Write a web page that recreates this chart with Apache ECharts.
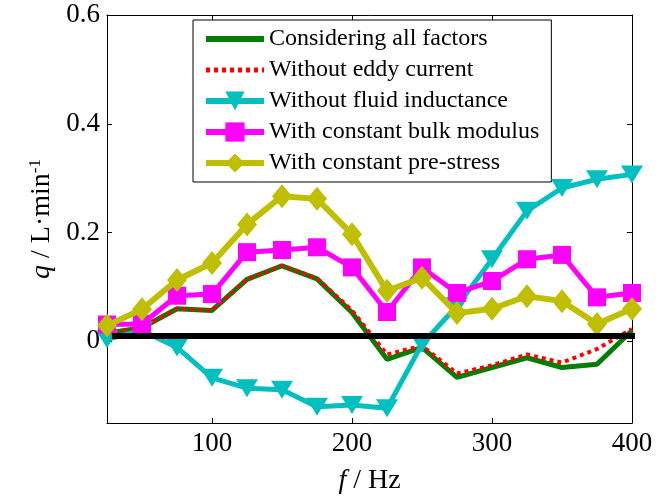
<!DOCTYPE html>
<html>
<head>
<meta charset="utf-8">
<script src="https://cdn.jsdelivr.net/npm/echarts@6/dist/echarts.min.js"></script>
<style>
  html, body { margin: 0; padding: 0; background: #fff; }
  #main { width: 669px; height: 500px; }
</style>
</head>
<body>
<div id="main"></div>
<script>
// ------------------------------------------------------
// Data
// ------------------------------------------------------
var freq = [25, 50, 75, 100, 125, 150, 175, 200, 225, 250, 275, 300, 325, 350, 375, 400]

var allFactors   = [0.015, 0.025, 0.060, 0.057, 0.114, 0.139, 0.115, 0.053, -0.033, -0.011, -0.066, -0.048, -0.030, -0.048, -0.042, 0.020]
var noEddy       = [0.015, 0.025, 0.060, 0.057, 0.114, 0.139, 0.116, 0.057, -0.024, -0.008, -0.059, -0.044, -0.024, -0.039, -0.014, 0.023]
var noInductance = [0.004, 0.020, -0.011, -0.067, -0.086, -0.089, -0.120, -0.117, -0.123, -0.005, 0.065, 0.151, 0.240, 0.282, 0.298, 0.307]
var bulkModulus  = [0.031, 0.032, 0.084, 0.087, 0.164, 0.168, 0.173, 0.136, 0.054, 0.136, 0.089, 0.111, 0.151, 0.159, 0.081, 0.089]
var preStress    = [0.029, 0.059, 0.113, 0.144, 0.215, 0.267, 0.262, 0.197, 0.093, 0.117, 0.052, 0.060, 0.083, 0.074, 0.032, 0.060]

var seriesNames = [
  'Considering all factors',
  'Without eddy current',
  'Without fluid inductance',
  'With constant bulk modulus',
  'With constant pre-stress'
]

// black reference line near zero
var refLineX = [28.5, 407]
var refLineY = 0.01

// ticks
var xTicks = [100, 200, 300, 400]
var yTicks = [0, 0.2, 0.4, 0.6]

// Helper: zip x and y
function pairs(xs, ys) {
  return xs.map(function (x, i) { return [x, ys[i]] })
}

var FONT = 'Liberation Serif'

var chart = echarts.init(document.getElementById('main'), null, { renderer: 'canvas' })

var axisBase = {
  type: 'value',
  axisLine: { show: true, onZero: false, lineStyle: { color: '#000', width: 1 } },
  splitLine: { show: false },
  axisTick: { show: true, inside: true, length: 5, lineStyle: { color: '#000' } }
}

// legend entries: line only for the first two, line + marker for the others
var legendData = [
  { name: seriesNames[0], itemStyle: { opacity: 0 }, lineStyle: { width: 6 } },
  { name: seriesNames[1], itemStyle: { opacity: 0 }, lineStyle: { width: 5 } },
  { name: seriesNames[2], lineStyle: { width: 6 } },
  { name: seriesNames[3], lineStyle: { width: 6 } },
  { name: seriesNames[4], lineStyle: { width: 6 } }
]

var option = {
  animation: false,
  backgroundColor: '#fff',
  grid: { left: 107, right: 37, top: 15, bottom: 76 },
  legend: {
    orient: 'vertical',
    left: 193,
    top: 20,
    data: legendData,
    backgroundColor: '#fff',
    borderColor: '#000',
    borderWidth: 1,
    borderRadius: 0,
    padding: [7, 12, 7, 10],
    itemWidth: 58,
    itemHeight: 24,
    itemGap: 7,
    textStyle: { fontFamily: FONT, fontSize: 24, color: '#000', lineHeight: 24 }
  },
  xAxis: [
    Object.assign({}, axisBase, {
      min: 25, max: 400,
      name: '{i|f} / Hz',
      nameLocation: 'middle',
      nameGap: 44,
      nameTextStyle: {
        fontFamily: FONT, fontSize: 28, color: '#000',
        rich: { i: { fontFamily: FONT, fontSize: 28, fontStyle: 'italic', color: '#000' } }
      },
      axisTick: { show: true, inside: true, length: 5, lineStyle: { color: '#000' }, customValues: xTicks },
      axisLabel: { customValues: xTicks, fontFamily: FONT, fontSize: 27, color: '#000', margin: 7 }
    }),
    Object.assign({}, axisBase, {
      min: 25, max: 400, position: 'top',
      axisTick: { show: true, inside: true, length: 5, lineStyle: { color: '#000' }, customValues: xTicks },
      axisLabel: { show: false }
    })
  ],
  yAxis: [
    Object.assign({}, axisBase, {
      min: -0.15, max: 0.6,
      name: '{i|q} / L·min{s|-1}',
      nameLocation: 'middle',
      nameGap: 50,
      nameTextStyle: {
        fontFamily: FONT, fontSize: 28, color: '#000',
        rich: {
          i: { fontFamily: FONT, fontSize: 28, fontStyle: 'italic', color: '#000' },
          s: { fontFamily: FONT, fontSize: 17, color: '#000', verticalAlign: 'top' }
        }
      },
      axisTick: { show: true, inside: true, length: 5, lineStyle: { color: '#000' }, customValues: yTicks },
      axisLabel: {
        customValues: yTicks, fontFamily: FONT, fontSize: 27, color: '#000', margin: 7,
        formatter: function (v) { return v === 0 ? '0' : v.toFixed(1) }
      }
    }),
    Object.assign({}, axisBase, {
      min: -0.15, max: 0.6, position: 'right',
      axisTick: { show: true, inside: true, length: 5, lineStyle: { color: '#000' }, customValues: yTicks },
      axisLabel: { show: false }
    })
  ],
  series: [
    {
      name: seriesNames[0], type: 'line', data: pairs(freq, allFactors),
      symbol: 'none', color: '#007f00',
      lineStyle: { color: '#007f00', width: 5 }, z: 2
    },
    {
      name: seriesNames[1], type: 'line', data: pairs(freq, noEddy),
      symbol: 'none', color: '#ff0000',
      lineStyle: { color: '#ff0000', width: 4, type: [4, 4], cap: 'butt' }, z: 3
    },
    {
      name: seriesNames[2], type: 'line', data: pairs(freq, noInductance),
      symbol: 'triangle', symbolRotate: 180, symbolSize: [22, 18], color: '#00bfbf',
      itemStyle: { color: '#00bfbf' },
      lineStyle: { color: '#00bfbf', width: 5 }, z: 4
    },
    {
      name: seriesNames[3], type: 'line', data: pairs(freq, bulkModulus),
      symbol: 'rect', symbolSize: 18, color: '#ff00ff',
      itemStyle: { color: '#ff00ff' },
      lineStyle: { color: '#ff00ff', width: 5 }, z: 5
    },
    {
      name: seriesNames[4], type: 'line', data: pairs(freq, preStress),
      symbol: 'diamond', symbolSize: [20, 24], color: '#bfbf00',
      itemStyle: { color: '#bfbf00' },
      lineStyle: { color: '#bfbf00', width: 6 }, z: 6
    },
    {
      name: 'ref', type: 'line', data: pairs(refLineX, [refLineY, refLineY]),
      symbol: 'none', clip: false, silent: true,
      lineStyle: { color: '#000', width: 6 }, z: 7
    }
  ]
}

chart.setOption(option)
</script>
</body>
</html>
